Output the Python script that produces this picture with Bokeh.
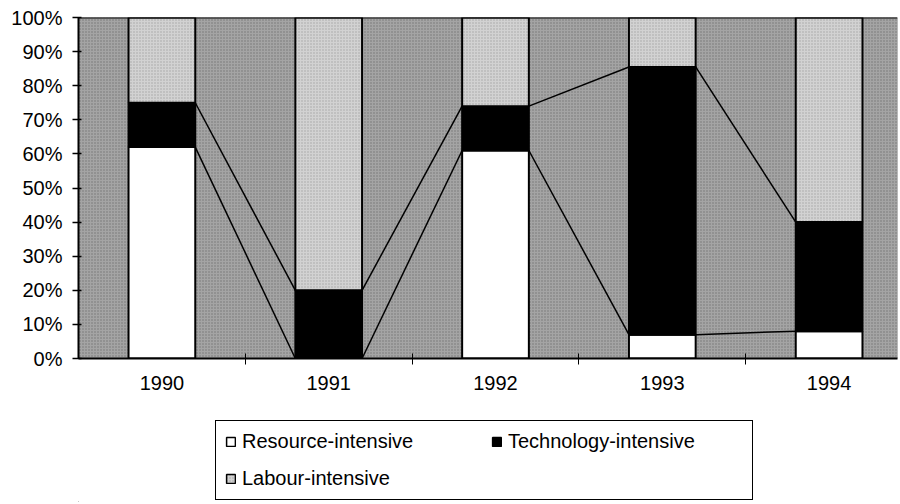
from bokeh.plotting import figure
from bokeh.layouts import column
from bokeh.models import (ColumnDataSource, FixedTicker, PrintfTickFormatter, Legend,
                          LegendItem, Span, Range1d)
from bokeh.embed import file_html
from bokeh.resources import INLINE

years = ["1990", "1991", "1992", "1993", "1994"]
resource = [62, 0, 61, 7, 8]
technology = [13, 20, 13, 78.5, 32]
labour = [25, 80, 26, 14.5, 60]
series_names = ["Resource-intensive", "Technology-intensive", "Labour-intensive"]

FONT = "Liberation Sans"
BG = "#a4a4a4"
LAB = "#d2d2d2"

xs = list(range(len(years)))
r_top = list(resource)
t_top = [a + b for a, b in zip(resource, technology)]
l_top = [a + b for a, b in zip(t_top, labour)]
zeros = [0] * len(years)

src = ColumnDataSource(dict(x=xs, r0=zeros, r1=r_top, t1=t_top, l1=l_top))

p = figure(frame_width=819, frame_height=341, output_backend="svg", toolbar_location=None,
           x_range=Range1d(-0.5, 4.41), y_range=Range1d(0, 100),
           min_border_left=78, min_border_right=1, min_border_top=17, min_border_bottom=50)
p.outline_line_color = None
p.grid.visible = False
p.background_fill_color = BG
p.background_fill_alpha = 1.0

# stippled background texture
p.quad(left=-0.6, right=5, bottom=0, top=100, fill_color=BG, line_color=None,
       hatch_pattern="dot", hatch_color="#444444", hatch_scale=3, hatch_weight=1, hatch_alpha=0.5)

W = 0.4
styles = [dict(fill_color="white"),
          dict(fill_color="black"),
          dict(fill_color=LAB, hatch_pattern="dot", hatch_color="#777777",
               hatch_scale=3, hatch_weight=1, hatch_alpha=0.5)]
p.vbar(x="x", bottom="r0", top="r1", width=W, source=src, line_color="black", line_width=2, **styles[0])
p.vbar(x="x", bottom="r1", top="t1", width=W, source=src, line_color="black", line_width=2, **styles[1])
p.vbar(x="x", bottom="t1", top="l1", width=W, source=src, line_color="black", line_width=2, **styles[2])

# series lines between bars
seg_x, seg_y = [], []
for cum in (r_top, t_top):
    for i in range(len(years) - 1):
        seg_x.append([xs[i] + W / 2, xs[i + 1] - W / 2])
        seg_y.append([cum[i], cum[i + 1]])
p.multi_line(xs=seg_x, ys=seg_y, line_color="black", line_width=1.5)

p.add_layout(Span(location=100, dimension="width", line_color="black", line_width=2))

# axes
p.xaxis.ticker = FixedTicker(ticks=xs, minor_ticks=[x + 0.5 for x in xs])
p.xaxis.major_label_overrides = {x: y for x, y in zip(xs, years)}
p.xaxis.major_tick_line_color = None
p.xaxis.major_tick_out = 0
p.xaxis.major_tick_in = 0
p.xaxis.minor_tick_line_color = "black"
p.xaxis.minor_tick_out = 6
p.xaxis.minor_tick_in = 5
p.xaxis.axis_line_width = 2
p.xaxis.major_label_standoff = 11

p.yaxis.ticker = FixedTicker(ticks=list(range(0, 101, 10)))
p.yaxis.formatter = PrintfTickFormatter(format="%d%%")
p.yaxis.minor_tick_line_color = None
p.yaxis.major_tick_out = 6
p.yaxis.major_tick_in = 3
p.yaxis.major_tick_line_width = 1.5
p.yaxis.axis_line_width = 2
p.yaxis.major_label_standoff = 10

for ax in (p.xaxis[0], p.yaxis[0]):
    ax.major_label_text_font = FONT
    ax.major_label_text_font_size = "20px"
    ax.major_label_text_color = "black"
    ax.axis_line_color = "black"

# legend figure (its frame is aligned with the main frame by the column layout)
p2 = figure(width=898, height=94, output_backend="svg", toolbar_location=None,
            x_range=Range1d(0, 1), y_range=Range1d(0, 1),
            min_border_left=0, min_border_right=0, min_border_top=0, min_border_bottom=0)
p2.axis.visible = False
p2.grid.visible = False
p2.outline_line_color = None
items = []
for name, st in zip(series_names, styles):
    # swatch renderers kept outside the visible range; only their legend glyphs show
    r = p2.vbar(x=[-10], top=[-10], bottom=[-11], width=0.1, line_color="black",
                line_width=1.5, **st)
    items.append(LegendItem(label=name, renderers=[r]))
# column-major order: Resource / Labour in column 1, Technology in column 2
legend = Legend(items=[items[0], items[2], items[1]],
                orientation="vertical", ncols=2, location=(137, 2))
legend.label_text_font = FONT
legend.label_text_font_size = "20px"
legend.label_text_color = "black"
legend.glyph_width = 11
legend.glyph_height = 11
legend.label_standoff = 6
legend.label_width = 235
legend.spacing = 14
legend.padding = 9
legend.margin = 0
legend.border_line_color = "black"
legend.border_line_alpha = 1.0
legend.border_line_width = 1.5
legend.background_fill_color = "white"
legend.background_fill_alpha = 1.0
p2.add_layout(legend, "center")

layout = column(p, p2, spacing=0)
open("out.html", "w").write(file_html(layout, INLINE))
